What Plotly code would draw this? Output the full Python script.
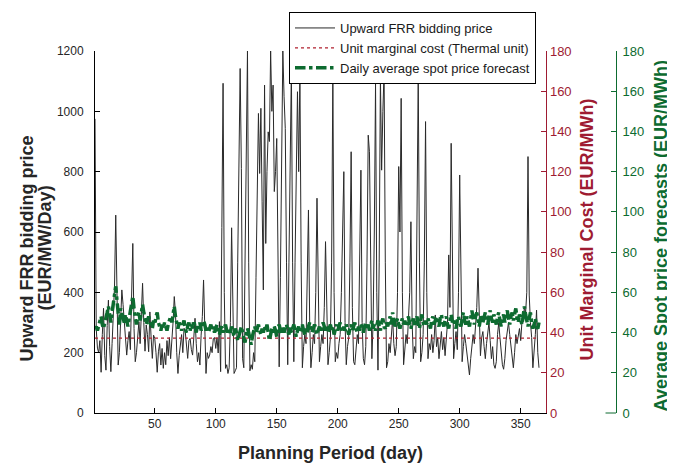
import plotly.graph_objects as go

days = list(range(1, 366))

frr_price = [
    975, 280, 215, 200, 240, 135, 260, 347, 190, 142,
    290, 374, 220, 137, 230, 314, 420, 656, 300, 159,
    200, 330, 408, 360, 300, 258, 192, 240, 270, 210,
    380, 562, 280, 170, 200, 260, 303, 230, 330, 430,
    300, 205, 292, 260, 203, 335, 250, 181, 258, 247,
    200, 135, 203, 230, 159, 214, 148, 200, 160, 240,
    190, 250, 180, 230, 300, 386, 330, 200, 131, 190,
    240, 260, 200, 281, 270, 220, 181, 240, 247, 210,
    192, 250, 314, 230, 170, 200, 159, 258, 320, 441,
    300, 131, 200, 181, 192, 220, 200, 247, 250, 214,
    250, 199, 303, 137, 615, 1093, 400, 148, 160, 131,
    150, 300, 614, 350, 131, 140, 150, 500, 900, 1142,
    811, 180, 150, 500, 850, 1200, 500, 140, 160, 145,
    200, 170, 450, 800, 993, 794, 1010, 700, 408, 1087,
    562, 800, 932, 900, 1200, 1000, 1087, 734, 800, 910,
    500, 153, 450, 900, 1200, 1050, 943, 500, 160, 500,
    900, 1142, 500, 170, 500, 900, 1065, 800, 1132, 500,
    150, 220, 260, 230, 400, 673, 300, 150, 200, 260,
    230, 400, 712, 350, 170, 220, 260, 230, 350, 568,
    300, 160, 200, 250, 500, 1126, 400, 170, 200, 181,
    230, 260, 400, 600, 800, 300, 160, 220, 250, 500,
    866, 350, 170, 160, 220, 260, 230, 450, 805, 300,
    180, 160, 220, 500, 921, 866, 400, 180, 300, 600,
    1093, 400, 142, 500, 1115, 805, 1000, 1132, 500, 150,
    170, 230, 200, 260, 314, 230, 190, 220, 400, 817,
    600, 1043, 400, 160, 200, 260, 230, 300, 400, 634,
    300, 180, 220, 200, 600, 1115, 500, 170, 200, 260,
    500, 966, 400, 180, 230, 210, 260, 200, 240, 325,
    220, 250, 180, 230, 270, 210, 250, 190, 240, 300,
    524, 350, 894, 400, 180, 230, 270, 210, 400, 789,
    350, 170, 220, 260, 230, 200, 170, 126, 180, 220,
    260, 230, 280, 350, 480, 300, 190, 250, 270, 220,
    180, 230, 270, 300, 240, 180, 220, 160, 148, 170,
    260, 300, 250, 200, 160, 145, 180, 240, 280, 300,
    260, 220, 170, 150, 200, 260, 230, 250, 280, 240,
    300, 300, 352, 330, 400, 850, 391, 300, 250, 150,
    200, 260, 341, 200, 150,
]

unit_cost = [37.2] * 365

spot_forecast = [
    42, 43, 41, 44, 46, 48, 44, 42, 45, 47,
    50, 53, 48, 45, 50, 55, 60, 63, 56, 48,
    44, 52, 50, 47, 45, 49, 46, 43, 47, 50,
    55, 58, 52, 47, 44, 48, 50, 46, 52, 54,
    50, 47, 44, 46, 48, 45, 43, 42, 46, 44,
    48, 50, 45, 43, 41, 44, 42, 45, 43, 41,
    44, 46, 48, 45, 50, 53, 48, 44, 42, 45,
    43, 41, 44, 46, 42, 40, 43, 45, 41, 44,
    42, 46, 43, 40, 44, 42, 45, 41, 43, 46,
    44, 41, 43, 40, 42, 44, 41, 43, 40, 42,
    44, 41, 39, 42, 43, 40, 42, 44, 41, 39,
    42, 40, 43, 41, 38, 42, 40, 36, 39, 41,
    43, 40, 38, 35, 39, 42, 40, 37, 34, 38,
    41, 43, 40, 42, 44, 41, 39, 42, 40, 43,
    41, 44, 40, 36, 39, 42, 40, 43, 41, 38,
    42, 44, 41, 39, 43, 40, 42, 44, 41, 39,
    43, 40, 42, 44, 41, 38, 41, 43, 40, 42,
    44, 41, 39, 42, 40, 43, 45, 41, 40, 42,
    44, 42, 39, 41, 43, 40, 42, 45, 43, 41,
    43, 40, 42, 44, 41, 43, 39, 42, 44, 41,
    43, 45, 42, 40, 43, 41, 44, 42, 39, 42,
    44, 41, 43, 45, 42, 40, 43, 41, 44, 42,
    40, 43, 45, 42, 44, 41, 43, 46, 42, 44,
    41, 44, 46, 43, 41, 45, 47, 43, 42, 45,
    43, 46, 48, 44, 50, 46, 43, 45, 47, 44,
    42, 45, 47, 44, 46, 43, 45, 48, 44, 42,
    45, 47, 43, 46, 48, 44, 42, 46, 49, 45,
    43, 46, 44, 47, 45, 42, 46, 48, 44, 46,
    48, 45, 43, 47, 49, 45, 43, 46, 48, 44,
    42, 46, 49, 45, 47, 44, 42, 46, 48, 45,
    43, 47, 50, 46, 44, 48, 45, 43, 47, 51,
    47, 44, 48, 50, 46, 43, 47, 49, 45, 48,
    50, 46, 44, 48, 51, 47, 45, 49, 46, 44,
    48, 50, 46, 43, 47, 49, 45, 48, 51, 47,
    44, 48, 50, 46, 49, 52, 47, 45, 49, 46,
    44, 48, 53, 49, 46, 43, 47, 50, 45, 42,
    44, 47, 43, 42, 45,
]

x_ticks = [50, 100, 150, 200, 250, 300, 350]
left_ticks = [0, 200, 400, 600, 800, 1000, 1200]
right_ticks = [0, 20, 40, 60, 80, 100, 120, 140, 160, 180]

RED = "#9e1b32"
GREEN = "#0d6b30"
TXT = "#262626"

fig = go.Figure()
fig.add_trace(go.Scatter(x=days, y=frr_price, mode="lines", name="Upward FRR bidding price",
                         line=dict(color="#2a2a2a", width=1), yaxis="y"))
fig.add_trace(go.Scatter(x=days, y=unit_cost, mode="lines", name="Unit marginal cost (Thermal unit)",
                         line=dict(color="#b0202f", width=1.2, dash="dot"), yaxis="y2"))
fig.add_trace(go.Scatter(x=days, y=spot_forecast, mode="lines", name="Daily average spot price forecast",
                         line=dict(color=GREEN, width=3.5, dash="dashdot"), yaxis="y3"))

# page offset (body margin) compensation
OFF = 8
W, H = 675 - OFF, 467 - OFF
PL, PR, PT, PB = 94.7, 616.5, 51, 413   # target pixel edges of plot/paper area
L = PL - OFF
T = PT - OFF
R = W - (PR - OFF)
B = H - (PB - OFF)
pw = W - L - R
ph = H - T - B

def px_x(px):
    return (px - OFF - L) / pw

def px_y(py):
    return (H - B - (py - OFF)) / ph

fig.update_layout(
    width=W, height=H,
    margin=dict(l=L, r=R, t=T, b=B, autoexpand=False),
    paper_bgcolor="white", plot_bgcolor="white",
    font=dict(family="Liberation Sans, Arial, sans-serif", color=TXT),
    showlegend=True,
    legend=dict(x=px_x(289), y=px_y(12), xanchor="left", yanchor="top",
                bgcolor="white", bordercolor="black", borderwidth=1, itemwidth=40,
                font=dict(size=13, color="#1a1a1a"), tracegroupgap=0),
    xaxis=dict(domain=[0, px_x(546.7)], range=[1, 371], tickvals=x_ticks,
               ticks="inside", ticklen=5, tickcolor="black",
               showline=True, linecolor="black", linewidth=1, automargin=False,
               showgrid=False, zeroline=False, tickfont=dict(size=12, color=TXT)),
    yaxis=dict(range=[0, 1200], tickvals=left_ticks, ticks="inside", ticklen=5,
               tickcolor="black", showline=True, linecolor="black", linewidth=1,
               showgrid=False, zeroline=False, tickfont=dict(size=12, color=TXT),
               ticklabelstandoff=8, automargin=False),
    yaxis2=dict(range=[0, 180], tickvals=right_ticks, overlaying="y", side="right",
                anchor="x", ticks="inside", ticklen=5, tickcolor=RED,
                showline=True, linecolor=RED, linewidth=1, showgrid=False, zeroline=False,
                tickfont=dict(size=13, color=RED), automargin=False),
    yaxis3=dict(range=[0, 180], tickvals=right_ticks, overlaying="y", side="right",
                anchor="free", position=1.0, ticks="inside", ticklen=5, tickcolor=GREEN,
                showline=True, linecolor=GREEN, linewidth=1, showgrid=False, zeroline=False,
                tickfont=dict(size=13, color=GREEN), ticklabelstandoff=3, automargin=False),
)

fig.add_shape(type="line", xref="paper", yref="paper", x0=px_x(606), x1=1.0, y0=0, y1=0,
              line=dict(color=GREEN, width=1))

annos = [
    dict(text="<b>Planning Period (day)</b>", x=px_x(331), y=px_y(453), textangle=0,
         font=dict(size=18, color=TXT)),
    dict(text="<b>Upward FRR bidding price</b>", x=px_x(27), y=px_y(248), textangle=-90,
         font=dict(size=18, color=TXT)),
    dict(text="<b>(EUR/MW/Day)</b>", x=px_x(45), y=px_y(248), textangle=-90,
         font=dict(size=18, color=TXT)),
    dict(text="<b>Unit Marginal Cost (EUR/MWh)</b>", x=px_x(587), y=px_y(230), textangle=-90,
         font=dict(size=18, color=RED)),
    dict(text="<b>Average Spot price forecasts (EUR/MWh)</b>", x=px_x(662), y=px_y(236), textangle=-90,
         font=dict(size=18, color=GREEN)),
]
for a in annos:
    fig.add_annotation(xref="paper", yref="paper", showarrow=False,
                       xanchor="center", yanchor="middle", **a)

fig.write_html("out.html")
